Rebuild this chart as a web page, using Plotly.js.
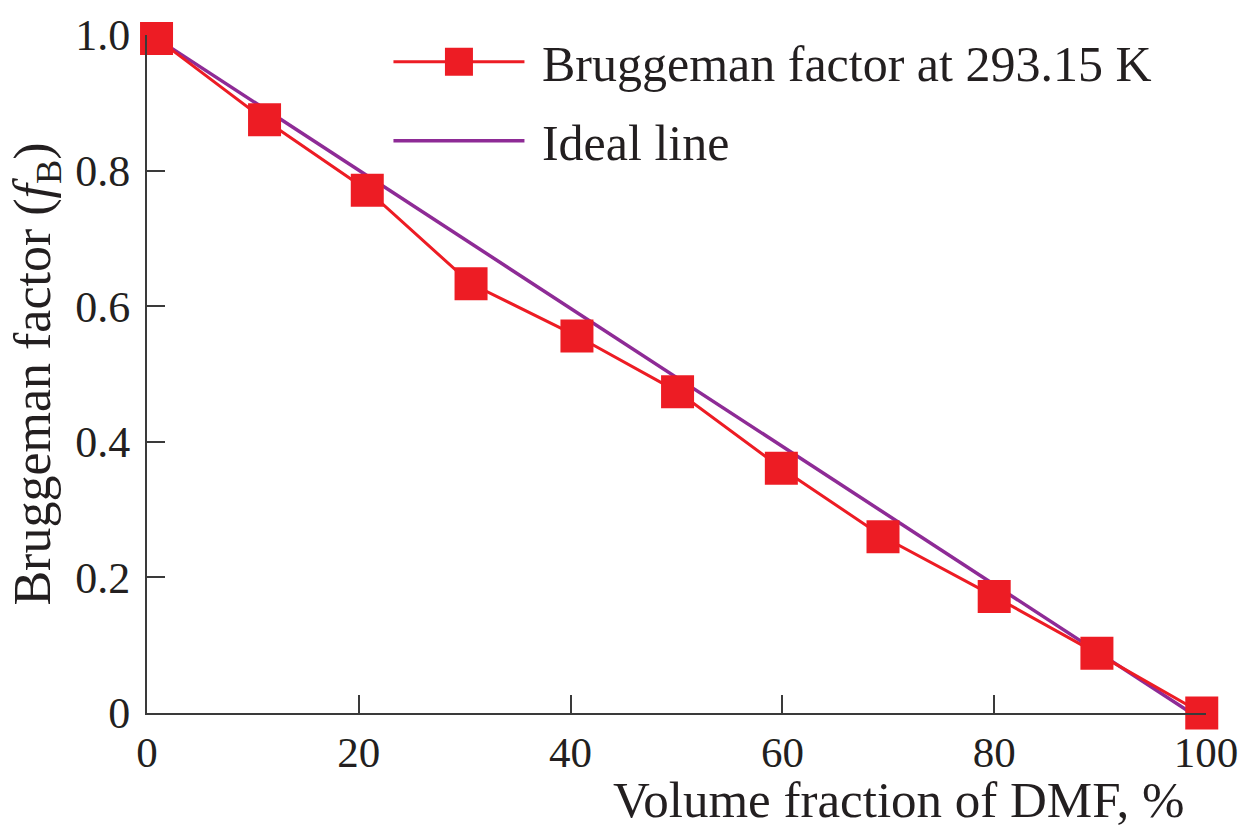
<!DOCTYPE html>
<html>
<head>
<meta charset="utf-8">
<script src="https://cdn.plot.ly/plotly-3.0.1.min.js"></script>
<style>
  html, body { margin: 0; padding: 0; background: #ffffff; }
  #chart { width: 1244px; height: 829px; }
</style>
</head>
<body>
<div id="chart"></div>
<script>
// Volume fraction of DMF, %
const dmfFraction = [0.9, 11.1, 20.8, 30.6, 40.6, 50.1, 59.9, 69.5, 80.0, 89.7, 99.6];
// Bruggeman factor at 293.15 K
const bruggemanFactor = [0.995, 0.875, 0.771, 0.633, 0.556, 0.474, 0.361, 0.260, 0.172, 0.088, 0.0];
// Ideal line end points
const idealX = [0.9, 98.6];
const idealY = [0.995, 0.0];

const xTickVals = [0, 20, 40, 60, 80, 100];
const xTickText = ["0", "20", "40", "60", "80", "100"];
const yTickVals = [0, 0.2, 0.4, 0.6, 0.8, 1.0];
const yTickText = ["0", "0.2", "0.4", "0.6", "0.8", "1.0"];

const seriesNames = ["Bruggeman factor at 293.15 K", "Ideal line"];

const FONT = "Liberation Serif, Times New Roman, serif";
const TEXT = "#231f20";
const RED = "#ed1c24";
const PURPLE = "#8e2b96";

const traces = [
  {
    x: idealX, y: idealY, type: "scatter", mode: "lines",
    name: "\u00a0" + seriesNames[1], legendrank: 2, legendgroup: "b",
    line: { color: PURPLE, width: 3.5 },
    cliponaxis: false, hoverinfo: "skip"
  },
  {
    x: dmfFraction, y: bruggemanFactor, type: "scatter", mode: "lines+markers",
    name: "\u00a0" + seriesNames[0], legendrank: 1, legendgroup: "a",
    line: { color: RED, width: 3 },
    marker: { symbol: "square", size: 33, color: RED, line: { width: 0 } },
    cliponaxis: false
  }
];

const layout = {
  width: 1244, height: 829,
  margin: { l: 147, r: 38, t: 35, b: 116 },
  paper_bgcolor: "#ffffff", plot_bgcolor: "#ffffff",
  font: { family: FONT, color: TEXT, size: 42 },
  showlegend: true,
  legend: {
    x: 0.228, y: 1.018, xanchor: "left", yanchor: "top",
    bgcolor: "rgba(0,0,0,0)", borderwidth: 0,
    font: { family: FONT, size: 50, color: TEXT },
    traceorder: "grouped", tracegroupgap: 11,
    itemwidth: 131
  },
  xaxis: {
    range: [0, 100], tickvals: xTickVals, ticktext: xTickText,
    showgrid: false, zeroline: false,
    showline: true, linecolor: "#3a3a3a", linewidth: 2,
    ticks: "inside", ticklen: 18, tickwidth: 2, tickcolor: "#3a3a3a",
    tickfont: { family: FONT, size: 43, color: TEXT },
    ticklabelstandoff: 0
  },
  yaxis: {
    range: [0, 1], tickvals: yTickVals, ticktext: yTickText,
    showgrid: false, zeroline: false,
    showline: true, linecolor: "#3a3a3a", linewidth: 2,
    ticks: "inside", ticklen: 18, tickwidth: 2, tickcolor: "#3a3a3a",
    tickfont: { family: FONT, size: 44, color: TEXT },
    ticklabelstandoff: 6,
    title: { text: "Bruggeman factor (<i>f</i><sub>B</sub>)", font: { family: FONT, size: 52, color: TEXT }, standoff: 8 }
  },
  annotations: [
    {
      text: "Volume fraction of DMF, %", xref: "paper", yref: "paper",
      x: 0.9805, y: 0, xanchor: "right", yanchor: "bottom", yshift: -116,
      showarrow: false, borderpad: 0, font: { family: FONT, size: 51, color: TEXT }
    }
  ]
};

Plotly.newPlot("chart", traces, layout, { displayModeBar: false, staticPlot: true }).then(function () {
  // enlarge the legend's square glyph to match the reference
  document.querySelectorAll("#chart .legend path.scatterpts").forEach(function (p) {
    p.setAttribute("d", "M14,14H-14V-14H14Z");
  });
});
</script>
</body>
</html>
